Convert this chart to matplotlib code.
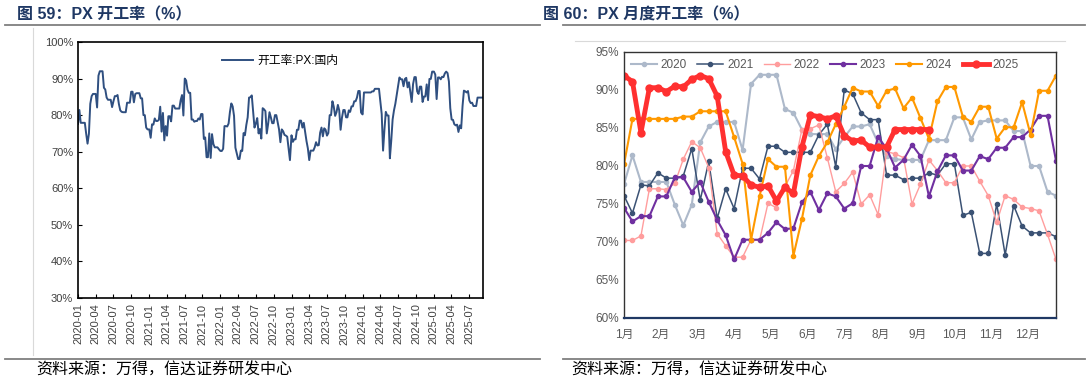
import matplotlib
matplotlib.use("Agg")
import matplotlib.pyplot as plt
import matplotlib.dates as mdates
import numpy as np
from matplotlib.lines import Line2D
from matplotlib.ticker import FixedLocator, PercentFormatter

plt.rcParams["font.family"] = ["Liberation Sans", "Noto Sans CJK SC", "DejaVu Sans"]

# weekly PX operating rate (%), one list per year
RATE_2020 = [77.6, 81.4, 77.9, 77.9, 77.9, 77.9, 74.9, 72.2, 74.9, 83.1, 85.2, 85.8, 85.8,
             85.8, 82.1, 90.8, 92.0, 92.0, 92.0, 87.5, 87.0, 84.8, 84.2, 84.2, 84.2, 82.2,
             83.8, 85.2, 85.2, 85.5, 83.0, 81.3, 80.9, 80.8, 80.8, 80.8, 83.4, 83.4, 83.4,
             86.4, 86.4, 83.5, 85.8, 86.0, 86.0, 86.0, 84.6, 84.6, 80.0, 80.0, 76.6, 76.1]
RATE_2021 = [76.1, 73.8, 77.5, 77.4, 79.1, 78.4, 78.4, 78.7, 82.3, 75.5, 80.6, 73.1, 77.0,
             74.4, 79.7, 79.7, 78.3, 82.6, 82.6, 81.8, 81.8, 81.8, 81.8, 84.1, 85.5, 79.9,
             90.0, 89.5, 87.0, 86.1, 86.1, 78.8, 78.8, 78.2, 78.4, 78.4, 79.1, 78.8, 80.3,
             80.3, 73.5, 73.9, 68.5, 68.5, 75.0, 68.3, 74.8, 72.1, 71.2, 71.2, 71.2, 70.7]
RATE_2022 = [70.2, 70.2, 70.8, 77.0, 77.0, 76.9, 77.7, 80.9, 83.2, 82.4, 79.8, 71.1, 69.5,
             68.0, 68.0, 70.3, 70.2, 75.1, 74.5, 77.3, 79.4, 84.8, 84.9, 85.4, 81.1, 76.6,
             77.7, 79.2, 75.0, 76.2, 73.6, 81.9, 81.6, 81.1, 75.0, 77.6, 80.8, 79.4, 77.8,
             77.8, 80.0, 80.0, 78.0, 76.1, 72.6, 76.1, 75.6, 74.6, 74.4, 74.1, 71.0, 67.7]
RATE_2023 = [74.5, 72.7, 73.4, 73.4, 76.0, 76.0, 78.5, 78.5, 76.6, 77.9, 75.3, 72.9, 70.9,
             67.7, 70.3, 70.3, 70.3, 71.2, 72.6, 71.7, 71.8, 75.2, 76.6, 74.2, 76.4, 76.0,
             74.4, 75.1, 80.0, 80.0, 83.8, 82.3, 79.8, 80.8, 82.8, 81.3, 76.0, 79.3, 81.4,
             81.4, 79.4, 79.4, 81.3, 80.9, 82.4, 82.4, 83.8, 83.8, 84.8, 86.6, 86.6, 80.7]
RATE_2024 = [80.2, 86.2, 86.2, 86.2, 86.2, 86.2, 86.2, 86.5, 86.5, 87.2, 87.2, 87.2, 87.2,
             83.8, 80.3, 70.3, 76.0, 80.9, 79.9, 79.9, 68.2, 73.0, 78.8, 81.3, 83.1, 85.5,
             87.8, 90.3, 89.8, 89.8, 87.9, 89.9, 90.2, 87.6, 89.0, 86.3, 83.6, 88.5, 90.4,
             90.4, 86.5, 85.8, 87.8, 87.8, 83.6, 85.1, 85.1, 88.4, 84.1, 89.9, 89.9, 91.9]
RATE_2025 = [91.9, 91.1, 84.4, 90.3, 90.3, 89.8, 90.5, 90.4, 91.4, 91.9, 91.5, 89.2, 81.9,
             78.8, 78.7, 77.5, 77.2, 77.4, 75.4, 77.2, 76.4, 82.5, 86.7, 86.5, 86.2, 86.6,
             84.0, 83.3, 83.4, 82.5, 82.5, 82.5, 84.8, 84.8, 84.8, 84.8, 84.8]

YEARS = ["2020", "2021", "2022", "2023", "2024", "2025"]
SERIES = [RATE_2020, RATE_2021, RATE_2022, RATE_2023, RATE_2024, RATE_2025]
MONTH_LABELS = ["1月", "2月", "3月", "4月", "5月", "6月", "7月", "8月", "9月", "10月", "11月", "12月"]

COLORS = ["#adb9ca", "#3b5274", "#ff9d9d", "#7030a0", "#ff9900", "#ff3030"]
WIDTHS = [1.5, 1.1, 1.0, 1.5, 1.5, 3.5]
MSIZES = [3.0, 3.0, 3.0, 3.0, 3.0, 5.0]

TITLE_COLOR = "#1f3864"
GRAY_TEXT = "#595959"

fig = plt.figure(figsize=(10.88, 3.84), dpi=100)
W, H = 1088, 384


def fig_rect(x0, y_top, x1, y_bottom):
    return [x0 / W, 1 - y_bottom / H, (x1 - x0) / W, (y_bottom - y_top) / H]


# ---- left: full weekly history
ax1 = fig.add_axes(fig_rect(78, 42, 483, 298))
dates = []
values = []
for year, vals in zip(YEARS, SERIES):
    start = np.datetime64(f"{year}-01-01")
    dates.extend(start + np.arange(len(vals)) * np.timedelta64(7, "D"))
    values.extend(vals)
dates = np.array(dates)
ax1.plot(dates, values, color="#2f4f80", lw=1.4, label="开工率:PX:国内")
ax1.set_xlim(dates[0], dates[-1])
ax1.set_ylim(30, 100)
ax1.yaxis.set_major_locator(FixedLocator(np.arange(30, 101, 10)))
ax1.yaxis.set_major_formatter(PercentFormatter(decimals=0))
ax1.xaxis.set_major_locator(mdates.MonthLocator(bymonth=[1, 4, 7, 10]))
ax1.xaxis.set_major_formatter(mdates.DateFormatter("%Y-%m"))
ax1.tick_params(axis="x", direction="in", length=3, rotation=90, labelsize=8,
                labelcolor="#404040", pad=4)
ax1.tick_params(axis="y", direction="in", length=3, labelsize=8, labelcolor="#404040")
for s in ax1.spines.values():
    s.set_linewidth(1.2)
    s.set_color("black")
ax1.legend(loc="upper center", bbox_to_anchor=(0.5, 0.99), frameon=False, fontsize=8.5,
           handlelength=2.6, handletextpad=0.4)

# ---- right: by calendar week, one line per year
ax2 = fig.add_axes(fig_rect(624, 52, 1056, 318))
for year, vals, c, lw, ms in zip(YEARS, SERIES, COLORS, WIDTHS, MSIZES):
    ax2.plot(np.arange(len(vals)), vals, color=c, lw=lw, marker="o", ms=ms,
             mec=c, mfc=c, label=year)
ax2.set_xlim(0, 51)
ax2.set_ylim(60, 95)
ax2.yaxis.set_major_locator(FixedLocator(np.arange(60, 96, 5)))
ax2.yaxis.set_major_formatter(PercentFormatter(decimals=0))
ax2.set_xticks(np.arange(12) * 52 / 12)
ax2.set_xticklabels(MONTH_LABELS)
ax2.tick_params(length=0, labelsize=8.5, labelcolor=GRAY_TEXT)
ax2.tick_params(axis="x", pad=8)
for name, s in ax2.spines.items():
    s.set_color("#333333")
    s.set_linewidth(1.0)
ax2.spines["bottom"].set_color(TITLE_COLOR)
ax2.spines["bottom"].set_linewidth(1.6)
ax2.legend(loc="upper left", bbox_to_anchor=(0.0, 1.0), ncol=6, frameon=False,
           fontsize=8.5, labelcolor=GRAY_TEXT, handlelength=2.2, handletextpad=0.3,
           columnspacing=0.9, borderaxespad=0.2)

# ---- titles, rules and sources
fig.text(17 / W, 1 - 15 / H, "图 59：PX 开工率（%）", fontsize=11.5, fontweight="bold",
         color=TITLE_COLOR, va="center", ha="left")
fig.text(543 / W, 1 - 15 / H, "图 60：PX 月度开工率（%）", fontsize=11.5, fontweight="bold",
         color=TITLE_COLOR, va="center", ha="left")
for x0, x1 in [(5, 540), (563, 1085)]:
    fig.add_artist(Line2D([x0 / W, x1 / W], [1 - 25 / H] * 2, color="#7f7f7f", lw=1.3))
    fig.add_artist(Line2D([x0 / W, x1 / W], [1 - 359 / H] * 2, color="#7f7f7f", lw=1.3))
fig.add_artist(Line2D([33 / W, 33 / W], [1 - 28 / H, 1 - 355 / H], color="#d9d9d9", lw=0.8))
fig.add_artist(Line2D([575 / W, 1065 / W], [1 - 41 / H] * 2, color="#d9d9d9", lw=0.8))
fig.text(36 / W, 1 - 370 / H, "资料来源：万得，信达证券研发中心", fontsize=11.5,
         va="center", ha="left", color="black")
fig.text(571 / W, 1 - 370 / H, "资料来源：万得，信达证券研发中心", fontsize=11.5,
         va="center", ha="left", color="black")

fig.savefig("out.png", dpi=100)
